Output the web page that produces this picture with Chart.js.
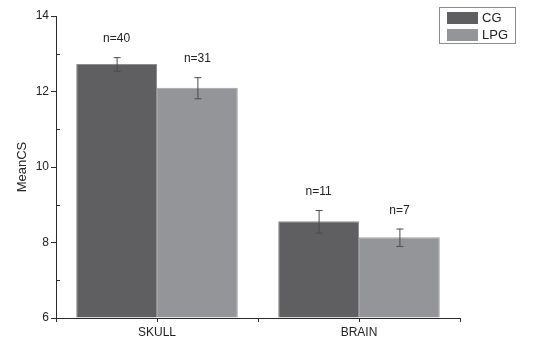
<!DOCTYPE html>
<html>
<head>
<meta charset="utf-8">
<script src="https://cdn.jsdelivr.net/npm/chart.js@4/dist/chart.umd.min.js"></script>
<style>
  html, body { margin: 0; padding: 0; background: #fff; }
  #wrap { width: 534px; height: 342px; }
</style>
</head>
<body>
<div id="wrap"><canvas id="barChart" width="534" height="342"></canvas></div>
<script>
// data
const categories = ['SKULL', 'BRAIN'];
const groups = ['CG', 'LPG'];
const cgMeans = [12.73, 8.56];
const lpgMeans = [12.1, 8.14];
const cgErr = [0.18, 0.3];
const lpgErr = [0.28, 0.23];
const cgN = ['n=40', 'n=11'];
const lpgN = ['n=31', 'n=7'];
const yTicks = [6, 8, 10, 12, 14];

const axisColor = '#2b2b2b';
const font = 'Arial, "Liberation Sans", sans-serif';

// error bars, n= labels, minor ticks and the boxed legend
const extras = {
  id: 'extras',
  afterDatasetsDraw(chart) {
    const c = chart.ctx;
    const y = chart.scales.y, x = chart.scales.x;
    const errs = [cgErr, lpgErr];
    const means = [cgMeans, lpgMeans];
    const ns = [cgN, lpgN];
    c.save();
    chart.data.datasets.forEach((ds, i) => {
      const meta = chart.getDatasetMeta(i);
      meta.data.forEach((bar, j) => {
        const top = y.getPixelForValue(means[i][j] + errs[i][j]);
        const bot = y.getPixelForValue(means[i][j] - errs[i][j]);
        c.strokeStyle = '#4a4a4a';
        c.lineWidth = 1;
        c.beginPath();
        c.moveTo(bar.x + 0.5, top); c.lineTo(bar.x + 0.5, bot);
        c.moveTo(bar.x - 3, top + 0.5); c.lineTo(bar.x + 4, top + 0.5);
        c.moveTo(bar.x - 3, bot + 0.5); c.lineTo(bar.x + 4, bot + 0.5);
        c.stroke();
        c.fillStyle = '#222';
        c.font = '12px ' + font;
        c.textAlign = 'center';
        c.textBaseline = 'middle';
        c.fillText(ns[i][j], bar.x, top - 18);
      });
    });
    // minor y ticks pointing inward
    c.strokeStyle = axisColor;
    c.lineWidth = 1;
    c.beginPath();
    for (let v = 7; v < 14; v += 2) {
      const py = Math.round(y.getPixelForValue(v)) + 0.5;
      c.moveTo(x.left, py); c.lineTo(x.left + 4, py);
    }
    // x ticks at category centres
    categories.forEach((_, k) => {
      const px = Math.round(x.getPixelForValue(k)) + 0.5;
      c.moveTo(px, y.bottom); c.lineTo(px, y.bottom + 4);
    });
    c.stroke();
    // legend
    c.strokeStyle = '#8c8c8c';
    c.strokeRect(439.5, 7.5, 76, 36);
    chart.data.datasets.forEach((ds, i) => {
      const ty = 12 + i * 17;
      c.fillStyle = ds.backgroundColor;
      c.fillRect(447, ty, 31, 12);
      c.fillStyle = '#222';
      c.font = '13px ' + font;
      c.textAlign = 'left';
      c.textBaseline = 'middle';
      c.fillText(ds.label, 482, ty + 6.5);
    });
    c.restore();
  }
};

new Chart(document.getElementById('barChart'), {
  type: 'bar',
  data: {
    labels: categories,
    datasets: [
      { label: groups[0], data: cgMeans, backgroundColor: '#5f5f61', borderColor: '#8f8f91', borderWidth: 1 },
      { label: groups[1], data: lpgMeans, backgroundColor: '#939598', borderColor: '#a3a5a8', borderWidth: 1 }
    ]
  },
  options: {
    responsive: false,
    animation: false,
    layout: { padding: { top: 16, right: 74, left: 15, bottom: 0 } },
    datasets: { bar: { categoryPercentage: 0.8, barPercentage: 1.0, base: 6 } },
    plugins: { legend: { display: false }, tooltip: { enabled: false } },
    scales: {
      x: {
        grid: { display: true, drawOnChartArea: false, offset: true, tickLength: 4, color: axisColor },
        border: { color: axisColor, width: 1 },
        ticks: { color: '#222', font: { size: 12, family: font }, padding: 3 },
        afterFit(s) { s.height = 24; }
      },
      y: {
        min: 6, max: 14,
        afterBuildTicks(s) { s.ticks = yTicks.map(v => ({ value: v })); },
        grid: { display: true, drawOnChartArea: false, tickLength: 5, color: axisColor },
        border: { color: axisColor, width: 1 },
        ticks: { color: '#222', font: { size: 12, family: font }, padding: 2 },
        title: { display: true, text: 'MeanCS', color: '#222', font: { size: 13, family: font }, padding: { top: 0, bottom: 0 } },
        afterFit(s) { s.width = 41; }
      }
    }
  },
  plugins: [extras]
});
</script>
</body>
</html>
